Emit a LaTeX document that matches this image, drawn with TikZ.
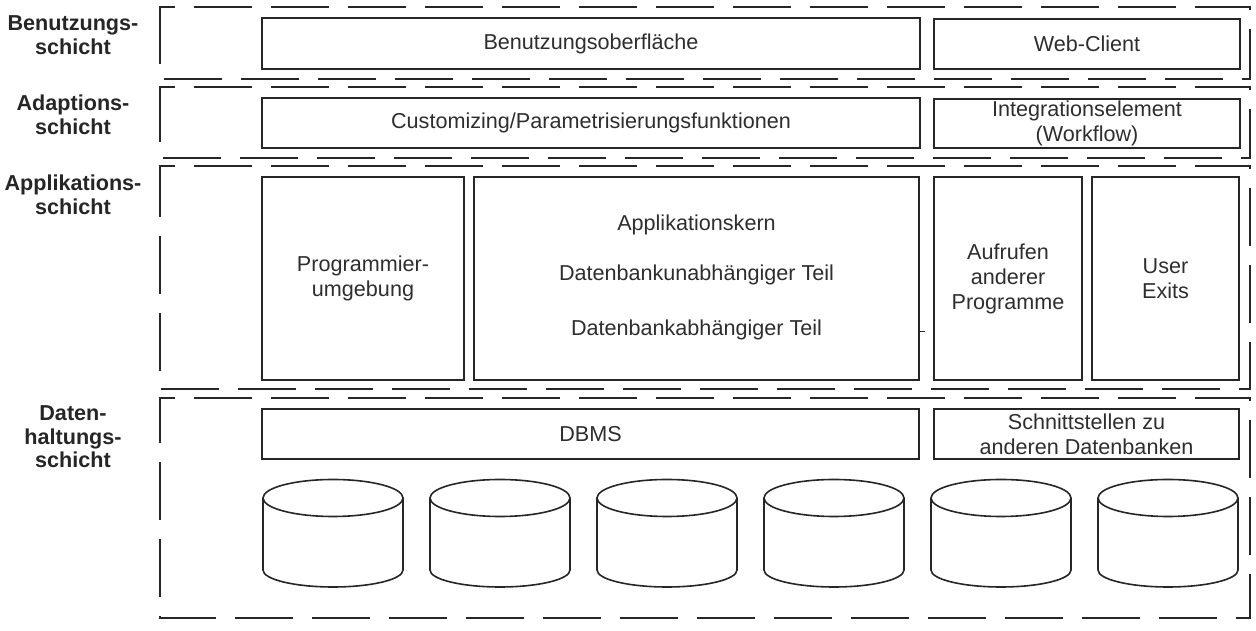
\documentclass[tikz,border=0pt]{standalone}
\usepackage{fontspec}
\setmainfont{Liberation Sans}
\definecolor{ink}{HTML}{262626}
\definecolor{tink}{HTML}{2E2E2E}
\begin{document}
\begin{tikzpicture}[x=1pt,y=1pt,
  frame/.style={draw=ink, line width=2pt, dash pattern=on 58pt off 19pt},
  box/.style={draw=ink, line width=1.6pt, inner sep=0pt, align=center,
    font=\fontsize{21.6}{25}\selectfont, text=tink},
  txt/.style={inner sep=0pt, font=\fontsize{21.6}{25}\selectfont, text=tink},
  lbl/.style={inner sep=0pt, align=center, font=\bfseries\fontsize{21.6}{23.5}\selectfont, text=ink},
  cyl/.style={draw=ink, line width=1.6pt}]
\useasboundingbox[fill=white] (0,0) rectangle (1256,631);

% layer labels
\node[lbl] (l1) at (73,596) {Benutzungs-\\schicht};
\node[lbl] (l2) at (73,516) {Adaptions-\\schicht};
\node[lbl] (l3) at (73,436) {Applikations-\\schicht};
\node[lbl] (l4) at (73,194) {Daten-\\haltungs-\\schicht};

% dashed layer frames
\draw[frame] (160,581) -- (160,624) -- (1250,624) -- (1250,552) -- (160,552) -- cycle;
\draw[frame] (160,501) -- (160,544) -- (1250,544) -- (1250,473) -- (160,473) -- cycle;
\draw[frame] (160,422) -- (160,465) -- (1250,465) -- (1250,242) -- (160,242) -- cycle;
\draw[frame] (160,190) -- (160,233) -- (1250,233) -- (1250,13) -- (160,13) -- cycle;

% Benutzungsschicht
\node[box, minimum width=658pt, minimum height=51pt] (bo) at (591,587.5) {Benutzungsoberfläche};
\node[box, minimum width=306pt, minimum height=50pt] (wc) at (1087,587) {Web-Client};

% Adaptionsschicht
\node[box, minimum width=658pt, minimum height=50pt] (cu) at (591,508) {Customizing/Parametrisierungsfunktionen};
\node[box, minimum width=306pt, minimum height=49pt] (ie) at (1087,507.5) {Integrationselement\\(Workflow)};

% Applikationsschicht
\node[box, minimum width=202pt, minimum height=203pt] (pu) at (363,352.5) {Programmier-\\umgebung};
\node[box, minimum width=445pt, minimum height=203pt] (ak) at (696.5,352.5) {};
\node[txt] (ak1) at (696.5,406) {Applikationskern};
\node[txt] (ak2) at (696.5,356) {Datenbankunabhängiger Teil};
\node[txt] (ak3) at (696.5,301) {Datenbankabhängiger Teil};
\node[box, minimum width=148pt, minimum height=203pt] (ap) at (1008,352.5) {Aufrufen\\anderer\\Programme};
\node[box, minimum width=147pt, minimum height=203pt] (ue) at (1165.5,352.5) {User\\Exits};
\coordinate (tk) at (925,299);
\draw[ink, line width=1pt] (ak.east |- tk) -- (tk);

% Datenhaltungsschicht
\node[box, minimum width=657pt, minimum height=50pt] (db) at (590.5,197) {DBMS};
\node[box, minimum width=305pt, minimum height=50pt] (sz) at (1086.5,197) {Schnittstellen zu\\anderen Datenbanken};

\foreach \c in {333,500,667,834,1001,1168}{
  \draw[cyl] (\c,133) ellipse [x radius=70, y radius=18.5];
  \draw[cyl] (\c-70,133) -- (\c-70,61)
     arc[start angle=180, end angle=360, x radius=70, y radius=17] -- (\c+70,133);
}
\end{tikzpicture}
\end{document}
